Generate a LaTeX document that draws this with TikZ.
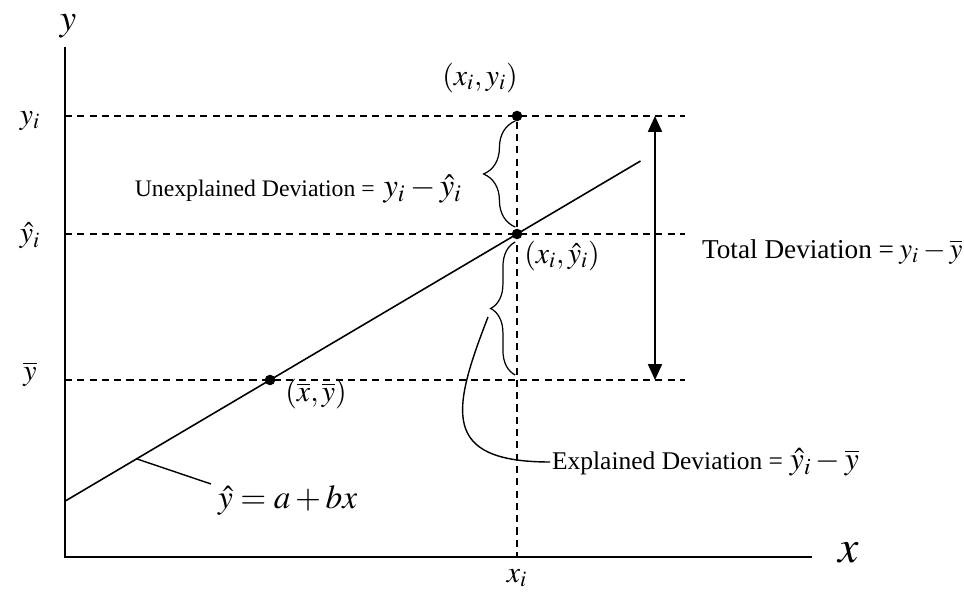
\documentclass[tikz,border=0pt]{standalone}
\usepackage{mathptmx}
\usepackage{fontspec}
\setmainfont{Liberation Serif}
\usetikzlibrary{calc,arrows.meta,decorations.pathreplacing}

\begin{document}
\begin{tikzpicture}[x=0.02cm,y=-0.02cm,
  dot/.style={circle,fill,inner sep=0pt,minimum size=6pt},
  guide/.style={dash pattern=on 4pt off 3pt,line width=0.7pt},
  bigm/.style={font=\fontsize{17}{20}\selectfont},
  brc/.style={decorate,decoration={brace,amplitude=#1,raise=1pt},line width=0.7pt}]
\useasboundingbox (0,0) rectangle (964,594);

% axes
\coordinate (top) at (65,47);
\coordinate (o) at (65,557);
\coordinate (right) at (812,557);
\draw[line width=1.1pt] (top) -- (o) -- (right);
\node[font=\fontsize{21}{24}\selectfont] (ylab) at (68,26) {$y$};
\node[font=\fontsize{26}{28}\selectfont] (xlab) at (849,553) {$x$};

% points
\node[dot] (obs) at (517,116) {};
\node[dot] (fit) at (517,234) {};
\node[dot] (mean) at (270,380) {};

% dashed guides
\coordinate (yi) at (65,116);   \coordinate (yiend) at (685,116);
\coordinate (yh) at (65,234);   \coordinate (yhend) at (685,234);
\coordinate (yb) at (65,380);   \coordinate (ybend) at (685,380);
\coordinate (xi) at (517,557);
\draw[guide] (yi) -- (yiend);
\draw[guide] (yh) -- (yhend);
\draw[guide] (yb) -- (ybend);
\draw[guide] (obs) -- (xi);

% axis labels
\node[bigm] (lyi) at (30,121) {$y_i$};
\node[bigm] (lyh) at (30,236) {$\hat{y}_i$};
\node[bigm] (lyb) at (30,374) {$\overline{y}$};
\node[bigm] (lxi) at (517,578) {$x_i$};

% regression line
\draw[line width=0.9pt] ($(mean)!-0.83!(fit)$) -- ($(mean)!1.5!(fit)$);
\coordinate (onl) at ($(mean)!-0.54!(fit)$);
\node[font=\fontsize{19}{22}\selectfont,anchor=west] (eq) at (212,500) {$\hat{y} = a + bx$};
\coordinate (eqend) at (211,484);
\draw[line width=0.8pt] (onl) -- (eqend);

% point labels
\node[bigm] (lobs) at (480,78) {$(x_i, y_i)$};
\node[bigm] (lfit) at (562,256) {$(x_i, \hat{y}_i)$};
\node[bigm] (lmean) at (316,394) {$(\overline{x}, \overline{y})$};

% braces
\coordinate (ua) at (517,227); \coordinate (ub) at (517,121);
\coordinate (la) at (517,375); \coordinate (lb) at (517,242);
\draw[brc=18pt] (ua) -- (ub);
\draw[brc=14pt] (la) -- (lb);

% total deviation
\coordinate (ta) at (655,116); \coordinate (tb) at (655,380);
\draw[{Triangle[width=8pt,length=9pt]}-{Triangle[width=8pt,length=9pt]},line width=0.8pt] (ta) -- (tb);
\node[anchor=west,inner sep=1pt,font=\fontsize{15.5}{19}\selectfont] (tot) at (700,252) {Total Deviation =\hspace{3pt}\fontsize{16.5}{20}\selectfont$y_i - \overline{y}$};

% unexplained
\node[anchor=east,font=\fontsize{13.5}{15}\selectfont] (unex) at (468,189) {Unexplained Deviation =\hspace{5pt}\fontsize{18.5}{20}\selectfont$y_i - \hat{y}_i$};

% explained
\node[anchor=west,inner sep=1pt,font=\fontsize{14.5}{17}\selectfont] (expl) at (550,462) {Explained Deviation =\hspace{4pt}\fontsize{18}{20}\selectfont$\hat{y}_i - \overline{y}$};
\coordinate (tip) at (488,317);
\draw[line width=0.8pt] (tip) .. controls (452,410) and (440,462) .. (expl.west);
\end{tikzpicture}
\end{document}
